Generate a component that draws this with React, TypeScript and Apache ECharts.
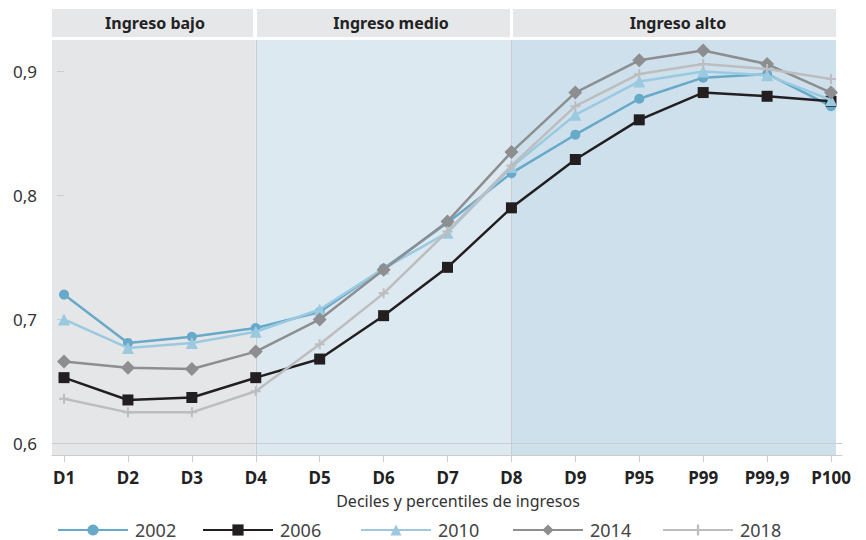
import React, { useEffect, useRef } from "react";
import * as echarts from "echarts";

const categories = ["D1", "D2", "D3", "D4", "D5", "D6", "D7", "D8", "D9", "P95", "P99", "P99,9", "P100"];
const yTicks = [0.6, 0.7, 0.8, 0.9];
const years = ["2002", "2006", "2010", "2014", "2018"];
const s2002 = [0.720, 0.681, 0.686, 0.693, 0.706, 0.741, 0.778, 0.818, 0.849, 0.878, 0.895, 0.898, 0.872];
const s2006 = [0.653, 0.635, 0.637, 0.653, 0.668, 0.703, 0.742, 0.790, 0.829, 0.861, 0.883, 0.880, 0.876];
const s2010 = [0.700, 0.677, 0.681, 0.690, 0.708, 0.741, 0.770, 0.823, 0.865, 0.892, 0.900, 0.897, 0.877];
const s2014 = [0.666, 0.661, 0.660, 0.674, 0.700, 0.740, 0.779, 0.835, 0.883, 0.909, 0.917, 0.906, 0.883];
const s2018 = [0.636, 0.625, 0.625, 0.642, 0.680, 0.721, 0.771, 0.824, 0.872, 0.898, 0.906, 0.902, 0.894];
const groupNames = ["Ingreso bajo", "Ingreso medio", "Ingreso alto"];
const groupBreaks = [3, 7]; // D4, D8 indices
const xAxisTitle = "Deciles y percentiles de ingresos";

const FONT = "'Noto Sans', Roboto, sans-serif";
const PLUS = "path://M4,0H6V4H10V6H6V10H4V6H0V4H4Z";

const seriesDefs = [
  { name: years[0], data: s2002, color: "#67a9c9", symbol: "circle", size: 10 },
  { name: years[1], data: s2006, color: "#231f20", symbol: "rect", size: 11 },
  { name: years[2], data: s2010, color: "#9bc9df", symbol: "triangle", size: 12 },
  { name: years[3], data: s2014, color: "#8d8e90", symbol: "diamond", size: 14 },
  { name: years[4], data: s2018, color: "#bdbdbf", symbol: PLUS, size: 10 },
];

const X_MIN = -0.188;
const X_MAX = 12.172;
const X_BAND_END = 12.078;

export default function App() {
  const ref = useRef<HTMLDivElement>(null);
  useEffect(() => {
    if (!ref.current) return;
    const chart = echarts.init(ref.current, undefined, { renderer: "svg" });
    const idx = categories.map((_, i) => i);
    const legendLefts = [52, 197, 355, 507, 657];

    const series: any[] = seriesDefs.map((s, k) => ({
      type: "line",
      name: s.name,
      data: s.data.map((v, i) => [i, v]),
      symbol: s.symbol,
      symbolSize: s.size,
      showAllSymbol: true,
      lineStyle: { color: s.color, width: 2.5 },
      itemStyle: { color: s.color },
      z: 3 + k,
    }));
    series[0].markArea = {
      silent: true,
      z: 0,
      data: [
        [{ xAxis: X_MIN, itemStyle: { color: "#e5e6e8" } }, { xAxis: groupBreaks[0] }],
        [{ xAxis: groupBreaks[0], itemStyle: { color: "#dde9f1" } }, { xAxis: groupBreaks[1] }],
        [{ xAxis: groupBreaks[1], itemStyle: { color: "#cde0ec" } }, { xAxis: X_BAND_END }],
      ],
    };
    series[0].markLine = {
      silent: true,
      z: 1,
      symbol: "none",
      label: { show: false },
      lineStyle: { color: "#c9cdd1", width: 1, type: "solid" },
      data: [{ xAxis: groupBreaks[0] }, { xAxis: groupBreaks[1] }, { yAxis: yTicks[0] }],
    };

    const headerRects = [
      { x: 52, w: 201, cx: 155 },
      { x: 257, w: 253, cx: 391 },
      { x: 513, w: 323, cx: 678 },
    ];
    const graphic: any[] = [];
    headerRects.forEach((h, i) => {
      graphic.push({
        type: "rect",
        shape: { x: h.x, y: 9, width: h.w, height: 28 },
        style: { fill: "#e6e7e9" },
        silent: true,
      });
      graphic.push({
        type: "text",
        x: h.cx,
        y: 23,
        style: {
          text: groupNames[i],
          fill: "#222",
          font: `bold 16px ${FONT}`,
          textAlign: "center",
          textVerticalAlign: "middle",
        },
        silent: true,
      });
    });
    graphic.push({
      type: "text",
      x: 458,
      y: 501,
      style: {
        text: xAxisTitle,
        fill: "#333",
        font: `16px ${FONT}`,
        textAlign: "center",
        textVerticalAlign: "middle",
      },
      silent: true,
    });

    chart.setOption({
      animation: false,
      grid: { left: 52, right: 24, top: 40, bottom: 85, containLabel: false },
      xAxis: {
        type: "value",
        min: X_MIN,
        max: X_MAX,
        axisLine: { show: true, lineStyle: { color: "#cccccc", width: 1 } },
        axisTick: { show: true, customValues: idx, length: 7, lineStyle: { color: "#cccccc" } },
        axisLabel: {
          customValues: idx,
          formatter: (v: number) => categories[Math.round(v)] ?? "",
          fontFamily: FONT,
          fontWeight: "bold",
          fontSize: 17,
          color: "#222",
          margin: 14,
        },
        splitLine: { show: false },
      },
      yAxis: {
        type: "value",
        min: 0.5906,
        max: 0.9254,
        axisLine: { show: false },
        axisTick: { show: true, customValues: yTicks, length: 7, lineStyle: { color: "#cccccc" } },
        axisLabel: {
          customValues: yTicks,
          formatter: (v: number) => v.toFixed(1).replace(".", ","),
          fontFamily: FONT,
          fontSize: 17,
          color: "#333",
          margin: 15,
        },
        splitLine: { show: false },
      },
      legend: years.map((y, i) => ({
        data: [y],
        left: legendLefts[i],
        top: 516,
        itemWidth: 70,
        itemHeight: 14,
        selectedMode: false,
        textStyle: { fontFamily: FONT, fontSize: 18, color: "#444", padding: [0, 0, 0, 2] },
      })),
      graphic,
      series,
    });
    return () => chart.dispose();
  }, []);
  return (
    <div
      ref={ref}
      style={{ position: "absolute", left: 0, top: 0, width: 866, height: 540 }}
    />
  );
}
